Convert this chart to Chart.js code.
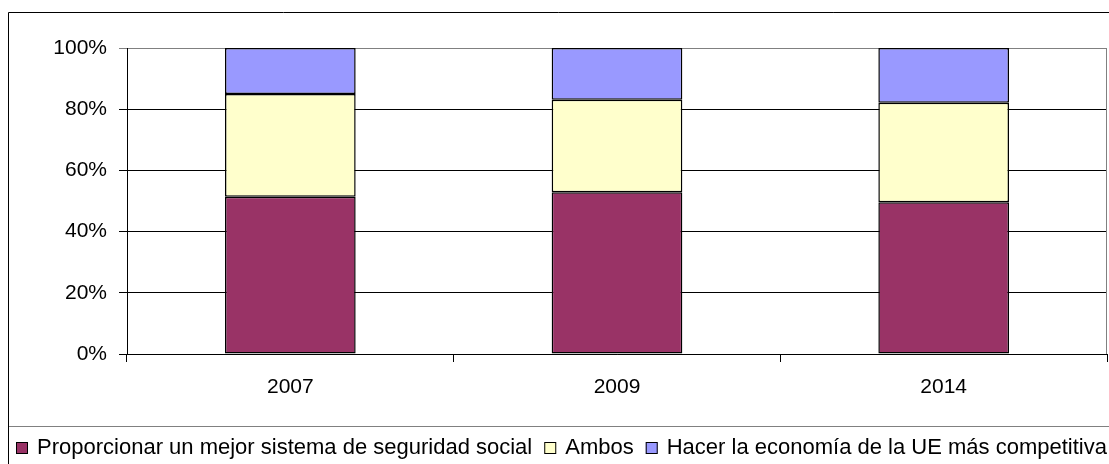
<!DOCTYPE html>
<html>
<head>
<meta charset="utf-8">
<script src="https://cdn.jsdelivr.net/npm/chart.js@4/dist/chart.umd.min.js"></script>
<style>
  body { margin: 0; background: #fff; }
  canvas { display: block; }
</style>
</head>
<body>
<canvas id="chart" width="1109" height="464"></canvas>
<script>
// Data (percent of each year's bar)
const years = ['2007', '2009', '2014'];
const seriesNames = [
    'Proporcionar un mejor sistema de seguridad social',
    'Ambos',
    'Hacer la economía de la UE más competitiva'
];
const socialValues = [51.4, 52.9, 49.6];
const bothValues = [33.6, 30.2, 32.5];
const competitiveValues = [15.0, 16.9, 17.9];
const yTicks = [0, 20, 40, 60, 80, 100];

const FONT = "'Liberation Sans', Arial, sans-serif";

// Outer frame, plot border and the legend row underneath
const framePlugin = {
    id: 'frame',
    afterDraw(chart) {
        const ctx = chart.ctx;
        const area = chart.chartArea;
        ctx.save();
        ctx.lineWidth = 1;
        ctx.strokeStyle = '#000';
        ctx.beginPath();
        ctx.moveTo(8.5, 464);
        ctx.lineTo(8.5, 12.5);
        ctx.lineTo(1109, 12.5);
        ctx.stroke();

        ctx.strokeStyle = '#808080';
        ctx.beginPath();
        ctx.moveTo(Math.round(area.right) - 0.5, area.top);
        ctx.lineTo(Math.round(area.right) - 0.5, area.bottom);
        ctx.moveTo(9, 426.5);
        ctx.lineTo(1109, 426.5);
        ctx.stroke();

        // legend
        ctx.font = '22px ' + FONT;
        ctx.textBaseline = 'alphabetic';
        let x = 16;
        chart.data.datasets.forEach(ds => {
            ctx.fillStyle = ds.backgroundColor;
            ctx.fillRect(x, 442, 12, 12);
            ctx.strokeStyle = '#000';
            ctx.strokeRect(x + 0.5, 442.5, 11, 11);
            ctx.fillStyle = '#000';
            ctx.fillText(ds.label, x + 21, 454);
            x += 21 + ctx.measureText(ds.label).width + 12;
        });
        ctx.restore();
    }
};

const ctx = document.getElementById('chart').getContext('2d');
new Chart(ctx, {
    type: 'bar',
    data: {
        labels: years,
        datasets: [
            { label: seriesNames[0], data: socialValues, backgroundColor: '#993366' },
            { label: seriesNames[1], data: bothValues, backgroundColor: '#FFFFCC' },
            { label: seriesNames[2], data: competitiveValues, backgroundColor: '#9999FF' }
        ].map(ds => Object.assign(ds, {
            borderColor: '#000',
            borderWidth: 1.5,
            borderSkipped: false,
            categoryPercentage: 1,
            barPercentage: 0.4
        }))
    },
    options: {
        responsive: false,
        animation: false,
        devicePixelRatio: 1,
        layout: { padding: { left: 0, top: 48, right: 2, bottom: 60 } },
        plugins: {
            legend: { display: false },
            tooltip: { enabled: false }
        },
        scales: {
            x: {
                stacked: true,
                offset: true,
                grid: {
                    offset: true,
                    drawOnChartArea: false,
                    color: '#000',
                    tickLength: 8
                },
                border: { color: '#000' },
                ticks: {
                    color: '#000',
                    font: { family: FONT, size: 21 },
                    padding: 13
                },
                afterFit(scale) { scale.height = 50; }
            },
            y: {
                stacked: true,
                min: 0,
                max: 100,
                afterBuildTicks(scale) {
                    scale.ticks = yTicks.map(v => ({ value: v }));
                },
                grid: {
                    color: c => (c.tick && c.tick.value === 100) ? '#808080' : '#000',
                    tickLength: 8
                },
                border: { color: '#000' },
                ticks: {
                    color: '#000',
                    font: { family: FONT, size: 21 },
                    padding: 12,
                    callback: v => v + '%'
                },
                afterFit(scale) { scale.width = 127; }
            }
        }
    },
    plugins: [framePlugin]
});
</script>
</body>
</html>
